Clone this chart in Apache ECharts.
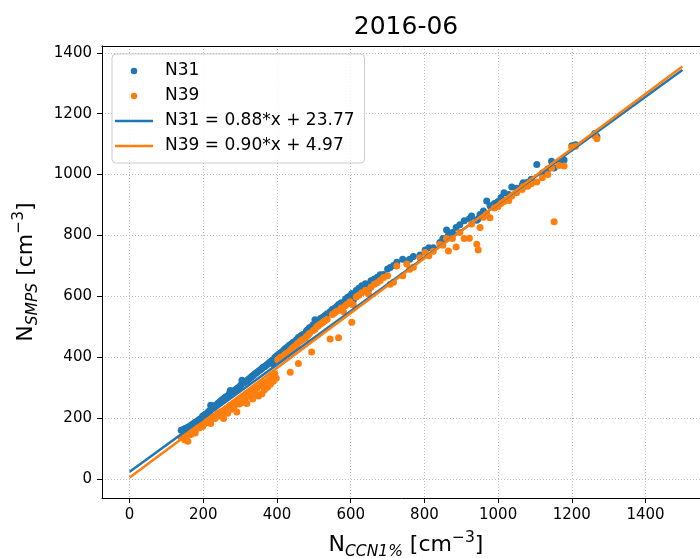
<!DOCTYPE html>
<html><head><meta charset="utf-8">
<script src="https://cdn.jsdelivr.net/npm/echarts@6/dist/echarts.min.js"></script>
<style>html,body{margin:0;padding:0;background:#fff}#c{width:700px;height:558px}</style>
</head><body><div id="c"></div>
<script>
// shared x values: N_CCN1% [cm^-3]
const ccn = [140,145,150,155,158,162,166,170,175,178,182,186,190,195,198,
  202,206,210,214,218,220,224,228,232,236,240,244,248,252,255,258,262,266,270,273,276,280,284,288,291,294,298,
  302,305,308,312,316,318,322,326,330,334,338,342,346,350,355,359,362,366,370,374,378,382,386,390,394,398,
  402,406,410,414,418,422,426,430,434,436,440,444,449,452,456,458,462,466,470,476,480,484,488,494,498,
  503,508,512,518,524,530,536,544,550,556,562,567,574,580,586,592,598,
  603,607,615,622,630,640,648,655,664,672,680,689,700,
  707,716,725,741,752,760,770,788,802,812,824,842,850,860,865,876,886,896,908,922,928,942,946,951,960,969,978,990,
  1000,1008,1016,1029,1037,1050,1065,1068,1080,1090,1105,1120,1135,1145,1152,1165,1179,1200,1210,1262,1268];
const n31 = [160,162,166,163,170,172,176,180,183,186,189,192,196,200,206,
  209,213,216,221,226,242,233,237,241,244,249,253,257,261,263,267,270,273,279,291,285,287,291,293,297,299,303,
  309,324,315,319,321,323,327,331,335,339,343,347,351,355,359,363,367,369,373,377,381,385,389,378,399,403,
  407,411,415,417,423,428,431,435,439,441,445,449,450,457,461,465,467,471,475,478,487,491,497,501,507,
  523,517,521,527,531,537,543,549,557,561,567,573,579,569,591,597,601,
  609,586,619,627,635,641,621,651,657,663,671,672,690,
  695,701,712,722,715,722,731,736,752,760,760,777,790,818,800,810,826,835,848,855,864,850,855,869,880,913,898,905,
  912,925,940,935,959,955,965,973,975,985,1033,1005,1018,1044,1022,1040,1048,1095,1098,1135,1125];
const n39 = [136,140,128,143,124,150,146,156,161,151,166,171,168,176,172,
  181,184,191,187,196,182,201,206,199,211,216,207,221,213,199,226,231,216,236,241,229,246,239,251,220,256,246,
  263,251,269,259,276,248,281,271,286,263,293,281,299,273,306,280,313,293,319,301,326,311,336,321,346,331,
  392,395,400,398,405,410,412,415,420,351,428,432,436,440,445,379,452,455,458,462,468,472,478,417,488,
  492,500,503,509,514,520,525,460,540,545,551,464,562,550,570,575,582,
  515,572,598,604,612,620,608,630,640,645,652,662,668,
  640,646,700,668,706,689,696,727,744,733,748,770,768,790,749,790,762,810,790,791,838,771,752,826,860,870,858,890,
  895,905,912,915,930,940,951,960,962,970,976,990,1000,1022,845,1030,1028,1090,1093,1128,1118];
// fitted lines (legend equations), endpoints at x = 0 and x = 1500
const fitX = [0, 1500];
const fit31 = [23.77, 1343.77];
const fit39 = [4.97, 1354.97];
const xTicks = [0, 200, 400, 600, 800, 1000, 1200, 1400];
const yTicks = [0, 200, 400, 600, 800, 1000, 1200, 1400];
const names = ['N31', 'N39', 'N31 = 0.88*x + 23.77', 'N39 = 0.90*x + 4.97'];
const colors = ['#1f77b4', '#ff7f0e'];

const FONT = 'DejaVu Sans';
const pts31 = ccn.map((x, i) => [x, n31[i]]);
const pts39 = ccn.map((x, i) => [x, n39[i]]);
const line31 = fitX.map((x, i) => [x, fit31[i]]);
const line39 = fitX.map((x, i) => [x, fit39[i]]);

const rich = {
  n: {fontFamily: FONT, fontSize: 22, lineHeight: 30, color: '#000'},
  sub: {fontFamily: FONT, fontSize: 15.5, fontStyle: 'italic', lineHeight: 17, verticalAlign: 'bottom', color: '#000'},
  sup: {fontFamily: FONT, fontSize: 15.5, lineHeight: 17, verticalAlign: 'top', color: '#000'}
};
const gridLine = {show: true, lineStyle: {color: '#b8b8b8', width: 1, type: [1, 2]}};
const tickLab = {color: '#000', fontFamily: FONT, fontSize: 15, margin: 10, formatter: v => String(v)};
const lineIcon = 'path://M0,0L38,0L38,2.5L0,2.5Z';

const chart = echarts.init(document.getElementById('c'), null, {renderer: 'canvas'});
chart.setOption({
  animation: false,
  backgroundColor: '#fff',
  title: {
    text: '2016-06', left: 406, top: 15, padding: 0, textAlign: 'center',
    textStyle: {fontFamily: FONT, fontSize: 25, fontWeight: 'normal', color: '#000'}
  },
  legend: {
    orient: 'vertical', left: 112, top: 54,
    padding: [7, 10, 7, 3], itemGap: 5, itemWidth: 38, itemHeight: 6.5,
    backgroundColor: 'rgba(255,255,255,0.8)', borderColor: '#cccccc', borderWidth: 1, borderRadius: 4,
    selectedMode: false,
    textStyle: {fontFamily: FONT, fontSize: 17, color: '#000', lineHeight: 20, padding: [0, 0, 0, 7]},
    data: [
      {name: names[0], icon: 'circle'},
      {name: names[1], icon: 'circle'},
      {name: names[2], icon: lineIcon},
      {name: names[3], icon: lineIcon}
    ]
  },
  grid: {left: 102, right: -10, top: 46, bottom: 60, containLabel: false, outerBoundsMode: 'none'},
  xAxis: [{
    type: 'value', min: -75, max: 1575, splitNumber: 8,
    name: '{n|N}{sub|CCN1%}{n| [cm}{sup|\u22123}{n|]}', nameLocation: 'middle', nameGap: 32,
    nameTextStyle: {rich: rich},
    axisLine: {show: true, onZero: false, lineStyle: {color: '#000', width: 1}},
    axisTick: {show: true, length: 5, lineStyle: {color: '#000'}, customValues: xTicks},
    axisLabel: Object.assign({customValues: xTicks}, tickLab),
    splitLine: gridLine
  }, {
    type: 'value', position: 'top', min: -75, max: 1575,
    axisLine: {show: true, onZero: false, lineStyle: {color: '#000', width: 1}},
    axisTick: {show: false}, axisLabel: {show: false}, splitLine: {show: false}
  }],
  yAxis: [{
    type: 'value', min: -62.5, max: 1422.5, splitNumber: 7,
    name: '{n|N}{sub|SMPS}{n| [cm}{sup|\u22123}{n|]}', nameLocation: 'middle', nameGap: 61, nameRotate: 90,
    nameTextStyle: {rich: rich},
    axisLine: {show: true, onZero: false, lineStyle: {color: '#000', width: 1}},
    axisTick: {show: true, length: 5, lineStyle: {color: '#000'}, customValues: yTicks},
    axisLabel: Object.assign({customValues: yTicks}, tickLab),
    splitLine: gridLine
  }, {
    type: 'value', position: 'right', min: -62.5, max: 1422.5,
    axisLine: {show: true, onZero: false, lineStyle: {color: '#000', width: 1}},
    axisTick: {show: false}, axisLabel: {show: false}, splitLine: {show: false}
  }],
  series: [
    {name: names[0], type: 'scatter', data: pts31, symbolSize: 7,
      itemStyle: {color: colors[0], opacity: 1}, xAxisIndex: 0, yAxisIndex: 0},
    {name: names[1], type: 'scatter', data: pts39, symbolSize: 7,
      itemStyle: {color: colors[1], opacity: 1}, xAxisIndex: 0, yAxisIndex: 0},
    {name: names[2], type: 'line', data: line31, symbol: 'none', showSymbol: false,
      lineStyle: {color: colors[0], width: 2.5}, itemStyle: {color: colors[0]}, xAxisIndex: 0, yAxisIndex: 0},
    {name: names[3], type: 'line', data: line39, symbol: 'none', showSymbol: false,
      lineStyle: {color: colors[1], width: 2.5}, itemStyle: {color: colors[1]}, xAxisIndex: 0, yAxisIndex: 0}
  ]
});
</script>
</body></html>
